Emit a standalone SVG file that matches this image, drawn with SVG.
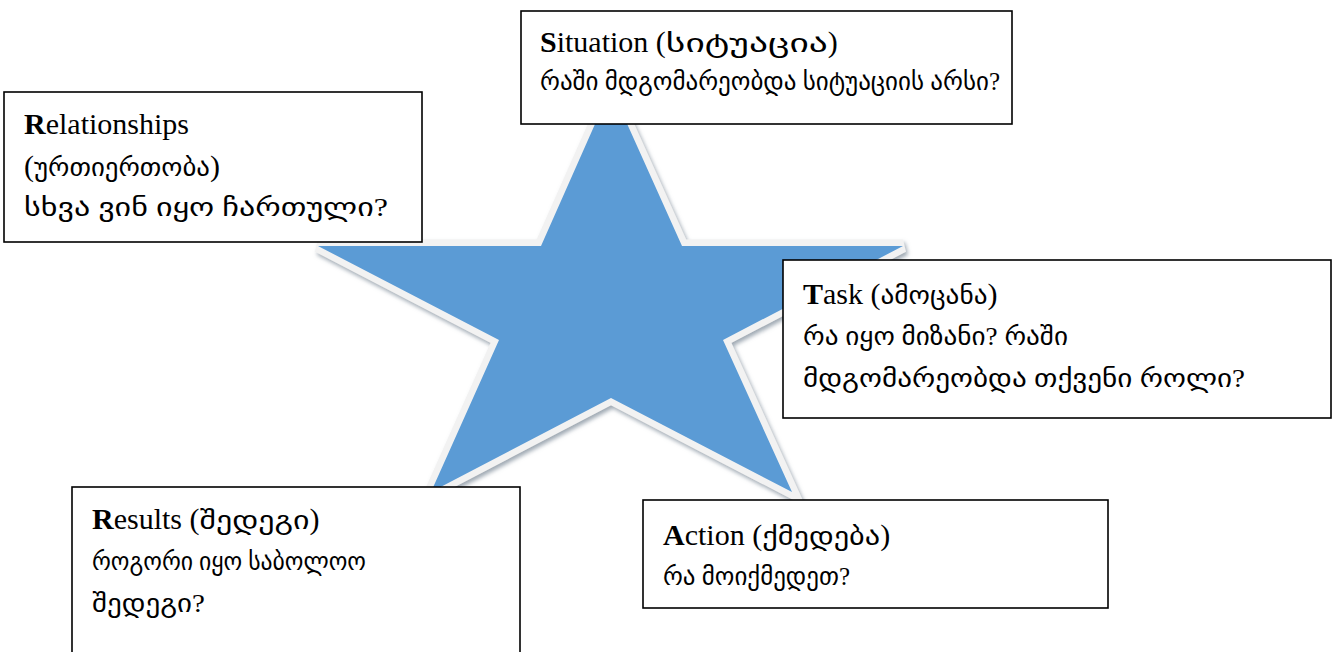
<svg xmlns="http://www.w3.org/2000/svg" width="1337" height="652" viewBox="0 0 1337 652">
<style>
.box{fill:#fff;stroke:#000;stroke-width:1.6}
.t{font-family:"Liberation Serif","DejaVu Sans",serif;font-size:30px;fill:#000}
.g{font-family:"Liberation Serif","DejaVu Sans",sans-serif;font-size:26px}
.b{font-weight:bold}
</style>
<defs>
<filter id="sh" x="-10%" y="-10%" width="120%" height="120%">
<feDropShadow dx="2" dy="3" stdDeviation="2" flood-color="#7f8c99" flood-opacity="0.75"/>
</filter>
</defs>
<rect width="1337" height="652" fill="#fff"/>
<g id="star">
<polygon points="611,88 682,246 903,246 723,340 792,492 611,398 431,492 499,340 318,246 541,246" fill="#f2f2f2" stroke="#f2f2f2" stroke-width="13" stroke-linejoin="miter" filter="url(#sh)"/>
<polygon points="611,88 682,246 903,246 723,340 792,492 611,398 431,492 499,340 318,246 541,246" fill="#5b9bd5"/>
</g>
<g id="connectors"></g>
<g id="situation">
<rect class="box" x="521" y="11" width="491" height="113"/>
<text class="t" x="540" y="52"><tspan class="b">S</tspan>ituation (<tspan class="g" textLength="162" lengthAdjust="spacingAndGlyphs">სიტუაცია</tspan>)</text>
<text class="t g" x="540" y="90" textLength="460" lengthAdjust="spacingAndGlyphs">რაში მდგომარეობდა სიტუაციის არსი?</text>
</g>
<g id="relationships">
<rect class="box" x="4" y="92" width="418" height="150"/>
<text class="t" x="24" y="134"><tspan class="b">R</tspan>elationships</text>
<text class="t" x="24" y="176">(<tspan class="g" textLength="176" lengthAdjust="spacingAndGlyphs">ურთიერთობა</tspan>)</text>
<text class="t g" x="24" y="216" textLength="364" lengthAdjust="spacingAndGlyphs">სხვა ვინ იყო ჩართული?</text>
</g>
<g id="task">
<rect class="box" x="783" y="260" width="548" height="158"/>
<text class="t" x="803" y="304"><tspan class="b">T</tspan>ask (<tspan class="g" textLength="107" lengthAdjust="spacingAndGlyphs">ამოცანა</tspan>)</text>
<text class="t g" x="803" y="345" textLength="265" lengthAdjust="spacingAndGlyphs">რა იყო მიზანი? რაში</text>
<text class="t g" x="803" y="387" textLength="442" lengthAdjust="spacingAndGlyphs">მდგომარეობდა თქვენი როლი?</text>
</g>
<g id="results">
<rect class="box" x="72" y="487" width="448" height="175"/>
<text class="t" x="92" y="529"><tspan class="b">R</tspan>esults (<tspan class="g" textLength="110" lengthAdjust="spacingAndGlyphs">შედეგი</tspan>)</text>
<text class="t g" x="92" y="570" textLength="274" lengthAdjust="spacingAndGlyphs">როგორი იყო საბოლოო</text>
<text class="t g" x="92" y="612" textLength="113" lengthAdjust="spacingAndGlyphs">შედეგი?</text>
</g>
<g id="action">
<rect class="box" x="643" y="500" width="465" height="108"/>
<text class="t" x="663" y="545"><tspan class="b">A</tspan>ction (<tspan class="g" textLength="118" lengthAdjust="spacingAndGlyphs">ქმედება</tspan>)</text>
<text class="t g" x="663" y="585" textLength="187" lengthAdjust="spacingAndGlyphs">რა მოიქმედეთ?</text>
</g>
</svg>
